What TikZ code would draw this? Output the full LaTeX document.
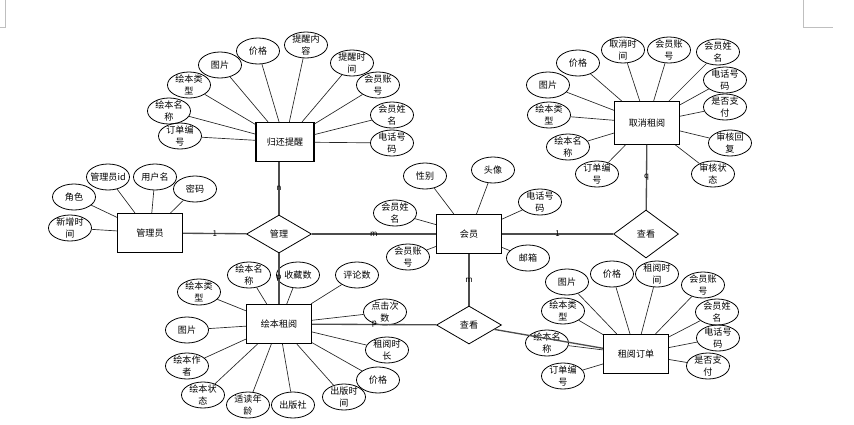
\documentclass[tikz,border=0pt]{standalone}
\usepackage{fontspec}
\setmainfont{Noto Sans CJK SC}
\usetikzlibrary{shapes.geometric}

\begin{document}
\begin{tikzpicture}[x=0.75pt,y=-0.75pt,
  font=\fontsize{6.8}{8.6}\selectfont,
  entity/.style={draw,line width=0.9pt,minimum width=48.75pt,minimum height=29.25pt,inner sep=0pt},
  attr/.style={draw,ellipse,line width=0.6pt,minimum width=32.25pt,minimum height=19.5pt,inner sep=-2pt,align=center},
  rel/.style={draw,diamond,line width=0.6pt,minimum width=48.75pt,minimum height=28.5pt,inner sep=0pt},
  link/.style={draw=black!70,line width=1pt},
  wire/.style={draw=black!85,line width=0.5pt},
  card/.style={font=\fontsize{6}{7}\selectfont,inner sep=0pt}]
\useasboundingbox (0,0) rectangle (854,425);
\draw[black!25, line width=0.6pt] (5,0) -- (5,27) -- (0,27);
\draw[black!25, line width=0.6pt] (803,0) -- (803,27) -- (833,27);

\node[entity,minimum width=43.5pt] (remind) at (285,142) {归还提醒};
\node[entity] (admin)  at (150,233) {管理员};
\node[rel]    (manage) at (279,234) {管理};
\node[entity] (member) at (469,234) {会员};
\node[rel,minimum height=36pt] (viewc) at (646,234) {查看};
\node[entity,minimum height=32pt] (cancel) at (647,123) {取消租阅};
\node[entity] (book)   at (279,324) {绘本租阅};
\node[rel]    (viewo)  at (469,325) {查看};
\node[entity] (order)  at (636,354) {租阅订单};

\node[attr] (r1)  at (180,136) {订单编\\号};
\node[attr] (r2)  at (169,111) {绘本名\\称};
\node[attr] (r3)  at (189,85)  {绘本类\\型};
\node[attr] (r4)  at (220,65)  {图片};
\node[attr] (r5)  at (258,51)  {价格};
\node[attr] (r6)  at (306,45)  {提醒内\\容};
\node[attr] (r7)  at (352,63)  {提醒时\\间};
\node[attr] (r8)  at (378,85)  {会员账\\号};
\node[attr] (r9)  at (392,115) {会员姓\\名};
\node[attr] (r10) at (392,143) {电话号\\码};
\draw[wire] (remind) -- (r1) (remind) -- (r2) (remind) -- (r3) (remind) -- (r4) (remind) -- (r5)
  (remind) -- (r6) (remind) -- (r7) (remind) -- (r8) (remind) -- (r9) (remind) -- (r10);

\node[attr] (a1) at (108,177) {管理员id};
\node[attr] (a2) at (155,177) {用户名};
\node[attr] (a3) at (195,189) {密码};
\node[attr] (a4) at (74,197)  {角色};
\node[attr] (a5) at (70,228)  {新增时\\间};
\draw[wire] (admin) -- (a1) (admin) -- (a2) (admin) -- (a3) (admin) -- (a4) (admin) -- (a5);

\node[attr] (m1) at (425,176) {性别};
\node[attr] (m2) at (493,170) {头像};
\node[attr] (m3) at (540,202) {电话号\\码};
\node[attr] (m4) at (395,213) {会员姓\\名};
\node[attr] (m5) at (408,257) {会员账\\号};
\node[attr] (m6) at (528,258) {邮箱};
\draw[wire] (member) -- (m1) (member) -- (m2) (member) -- (m3) (member) -- (m4) (member) -- (m5) (member) -- (m6);

\node[attr] (c1)  at (623,50)  {取消时\\间};
\node[attr] (c2)  at (669,50)  {会员账\\号};
\node[attr] (c3)  at (718,52)  {会员姓\\名};
\node[attr] (c4)  at (578,63)  {价格};
\node[attr] (c5)  at (725,80)  {电话号\\码};
\node[attr] (c6)  at (548,85)  {图片};
\node[attr] (c7)  at (725,107) {是否支\\付};
\node[attr] (c8)  at (549,115) {绘本类\\型};
\node[attr] (c9)  at (730,143) {审核回\\复};
\node[attr] (c10) at (568,147) {绘本名\\称};
\node[attr] (c11) at (713,174) {审核状\\态};
\node[attr] (c12) at (597,174) {订单编\\号};
\draw[wire] (cancel) -- (c1) (cancel) -- (c2) (cancel) -- (c3) (cancel) -- (c4) (cancel) -- (c5) (cancel) -- (c6)
  (cancel) -- (c7) (cancel) -- (c8) (cancel) -- (c9) (cancel) -- (c10) (cancel) -- (c11) (cancel) -- (c12);

\node[attr] (b1)  at (249,275) {绘本名\\称};
\node[attr] (b2)  at (298,275) {收藏数};
\node[attr] (b3)  at (357,275) {评论数};
\node[attr] (b4)  at (199,292) {绘本类\\型};
\node[attr] (b5)  at (385,312) {点击次\\数};
\node[attr] (b6)  at (187,330) {图片};
\node[attr] (b7)  at (387,350) {租阅时\\长};
\node[attr] (b8)  at (187,366) {绘本作\\者};
\node[attr] (b9)  at (378,380) {价格};
\node[attr] (b10) at (203,395) {绘本状\\态};
\node[attr] (b11) at (344,397) {出版时\\间};
\node[attr] (b12) at (248,405) {适读年\\龄};
\node[attr] (b13) at (293,405) {出版社};
\draw[wire] (book) -- (b1) (book) -- (b2) (book) -- (b3) (book) -- (b4) (book) -- (b5) (book) -- (b6) (book) -- (b7)
  (book) -- (b8) (book) -- (b9) (book) -- (b10) (book) -- (b11) (book) -- (b12) (book) -- (b13);

\node[attr] (o1)  at (567,282) {图片};
\node[attr] (o2)  at (612,274) {价格};
\node[attr] (o3)  at (657,274) {租阅时\\间};
\node[attr] (o4)  at (703,285) {会员账\\号};
\node[attr] (o5)  at (563,311) {绘本类\\型};
\node[attr] (o6)  at (717,312) {会员姓\\名};
\node[attr] (o7)  at (547,343) {绘本名\\称};
\node[attr] (o8)  at (718,338) {电话号\\码};
\node[attr] (o9)  at (708,366) {是否支\\付};
\node[attr] (o10) at (563,376) {订单编\\号};
\draw[wire] (order) -- (o1) (order) -- (o2) (order) -- (o3) (order) -- (o4) (order) -- (o5)
  (order) -- (o6) (order) -- (o7) (order) -- (o8) (order) -- (o9) (order) -- (o10);

\draw[link] (admin) -- node[card] {1} (manage);
\draw[link] (manage) -- node[card] {m} (member);
\draw[link] (manage) -- node[card] {n} (manage |- remind.south);
\draw[link] (manage) -- node[card] {p} (book);
\draw[link] (member) -- node[card] {1} (viewc);
\draw[link] (viewc) -- node[card] {q} (cancel);
\draw[link] (member) -- node[card] {m} (viewo);
\draw[link] (book) -- node[card] {p} (viewo);
\draw[link] (viewo) -- (order);
\end{tikzpicture}
\end{document}
